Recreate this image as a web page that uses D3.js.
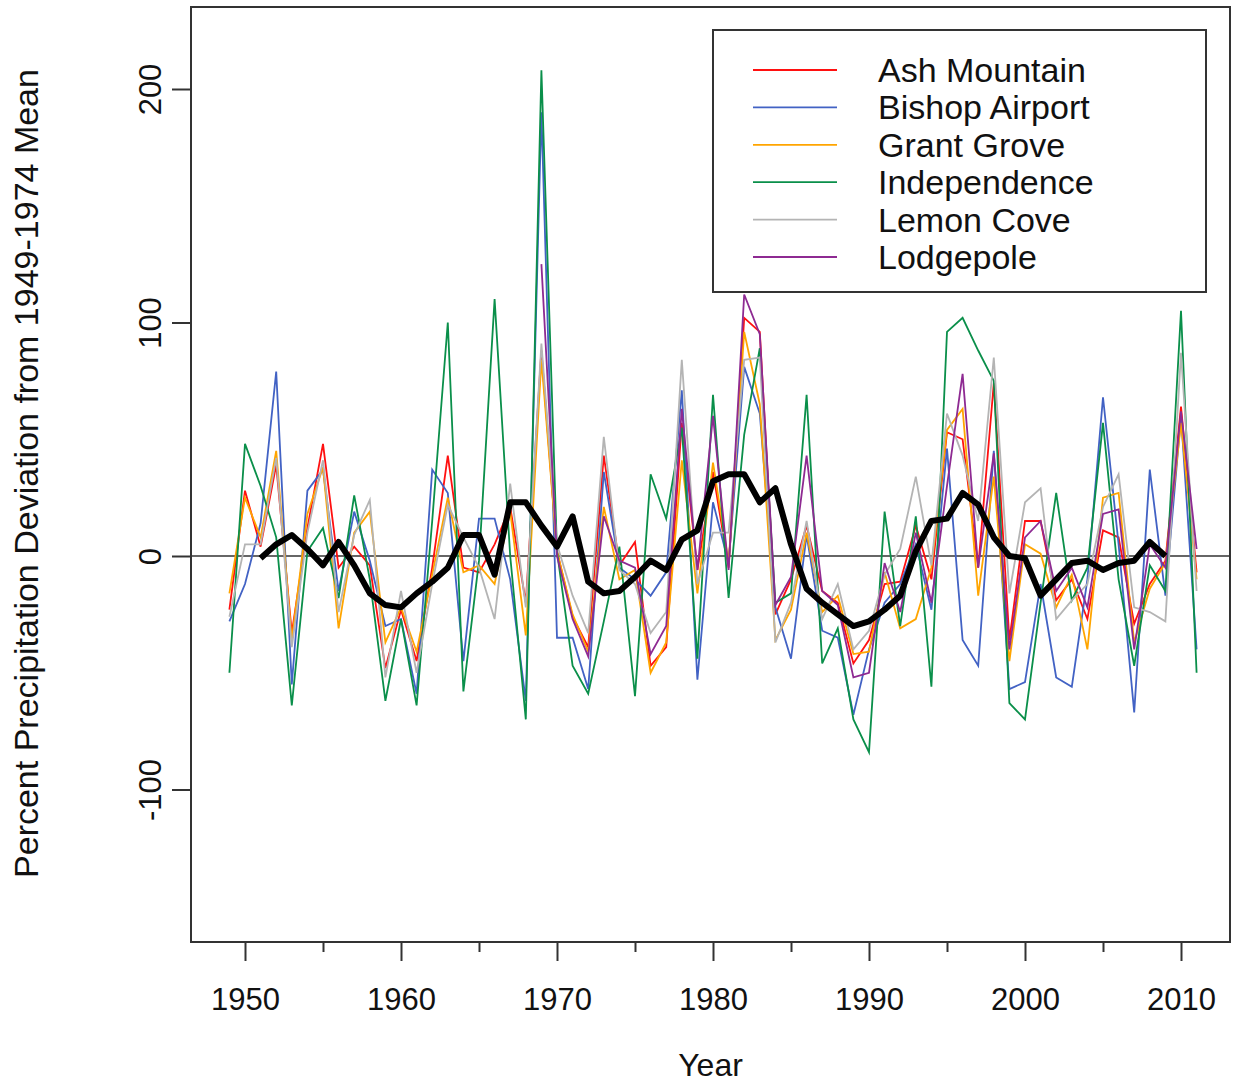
<!DOCTYPE html>
<html>
<head>
<meta charset="utf-8">
<script src="https://cdn.jsdelivr.net/npm/d3@7"></script>
<style>
  body { margin: 0; background: #fff; }
  svg { display: block; font-family: "Liberation Sans", Arial, Helvetica, sans-serif; }
</style>
</head>
<body>
<div id="chart"></div>
<script>
// Anos e séries (desvio percentual da média 1949-1974)
const years = d3.range(1949, 2012);

const ashMountain = [-23, 28, 4, 39, -33, 12, 48, -5, 4, -4, -48, -23, -45, -5, 43, -5, -7, 5, 21, -20,
  88, 2, -26, -39, 43, -4, 6, -47, -39, 57, -6, 36, -5, 102, 96, -25, -10, 13, -15, -20,
  -46, -36, -12, -11, 13, -10, 53, 50, -5, 74, -36, 15, 15, -19, -10, -27, 11, 8, -29, -12, -2, 64, -7];

const bishopAirport = [-28, -12, 14, 79, -55, 28, 37, -15, 19, -2, -30, -27, -59, 37, 27, -45, 16, 16, -10, -62,
  190, -35, -35, -57, 36, -5, -10, -17, -7, 71, -53, 23, -3, 81, 61, -22, -44, 9, -32, -35,
  -68, -40, -20, -12, 5, -23, 46, -36, -47, 45, -57, -54, -12, -52, -56, -10, 68, 5, -67, 37, -17, 60, -40];

const grantGrove = [-16, 25, 8, 45, -36, 18, 38, -31, 10, 19, -37, -22, -41, -8, 25, -7, -4, -12, 19, -34,
  84, 2, -25, -41, 21, -10, -6, -50, -37, 41, -16, 40, -3, 96, 65, -36, -23, 10, -24, -17,
  -42, -41, -7, -31, -27, -5, 54, 63, -17, 34, -45, 5, 1, -22, -8, -40, 25, 27, -37, -14, -3, 57, -10];

const independence = [-50, 48, 30, 8, -64, 2, 12, -18, 26, -10, -62, -27, -64, 15, 100, -58, -2, 110, 0, -70,
  208, 2, -47, -59, -28, 4, -60, 35, 16, 55, -44, 69, -18, 52, 89, -20, -16, 69, -46, -31,
  -70, -84, 19, -30, 17, -56, 96, 102, 88, 75, -63, -70, -20, 27, -19, -5, 57, -10, -47, -4, -15, 105, -50];

const lemonCove = [-26, 5, 5, 42, -39, 10, 41, -24, 9, 24, -52, -15, -50, -12, 22, 8, -5, -27, 31, -22,
  91, 5, -17, -33, 51, -6, -12, -33, -24, 84, -12, 10, 10, 84, 85, -37, -20, 15, -27, -12,
  -40, -32, -8, 3, 34, -4, 61, 43, 15, 85, -16, 23, 29, -27, -19, -12, 21, 35, -22, -24, -28, 87, -15];

// Lodgepole só tem dados a partir de 1969
const lodgepole = [null, null, null, null, null, null, null, null, null, null, null, null, null, null, null, null, null, null, null, null,
  125, 0, -27, -43, 17, -2, -5, -42, -30, 63, -6, 60, -6, 112, 95, -21, -9, 43, -15, -21,
  -52, -50, -3, -24, 10, -20, 30, 78, -5, 44, -40, 8, 15, -15, -5, -22, 18, 20, -40, 5, -5, 62, 3];

// Média móvel (1951-2009)
const avgYears = d3.range(1951, 2010);
const movingAvg = [-1, 5, 9, 3, -4, 6, -4, -16, -21, -22, -16, -11, -5, 9, 9, -8, 23, 23, 13, 4,
  17, -11, -16, -15, -9, -2, -6, 7, 11, 32, 35, 35, 23, 29, 5, -14, -20, -25, -30, -28,
  -23, -17, 2, 15, 16, 27, 22, 8, 0, -1, -17, -10, -3, -2, -6, -3, -2, 6, 0];

const stationNames = ['Ash Mountain', 'Bishop Airport', 'Grant Grove', 'Independence', 'Lemon Cove', 'Lodgepole'];
const stationValues = [ashMountain, bishopAirport, grantGrove, independence, lemonCove, lodgepole];
const stationColors = ['#ff1010', '#4262c4', '#ffa500', '#0a8f4a', '#b4b4b4', '#8e2a92'];

const majorYears = [1950, 1960, 1970, 1980, 1990, 2000, 2010];
const minorYears = [1955, 1965, 1975, 1985, 1995, 2005];
const yTicks = [-100, 0, 100, 200];

// Dimensões
const width = 1236, height = 1082;
const box = { left: 191, right: 1230, top: 7, bottom: 942 };

const svg = d3.select('#chart').append('svg')
  .attr('width', width)
  .attr('height', height);

const x = d3.scaleLinear().domain([1950, 2010]).range([245, 1181]);
const y = d3.scaleLinear().domain([0, 200]).range([556, 89]);

// Linha do zero
svg.append('line')
  .attr('x1', box.left).attr('x2', box.right)
  .attr('y1', y(0)).attr('y2', y(0))
  .attr('stroke', '#333').attr('stroke-width', 1.5);

// Séries das estações
const line = d3.line()
  .defined(d => d.v !== null)
  .x(d => x(d.year))
  .y(d => y(d.v));

stationValues.forEach((vals, i) => {
  const pts = years.map((yr, j) => ({ year: yr, v: vals[j] }));
  svg.append('path')
    .datum(pts)
    .attr('fill', 'none')
    .attr('stroke', stationColors[i])
    .attr('stroke-width', 1.8)
    .attr('stroke-linejoin', 'miter')
    .attr('d', line);
});

// Média móvel em preto
svg.append('path')
  .datum(avgYears.map((yr, j) => ({ year: yr, v: movingAvg[j] })))
  .attr('fill', 'none')
  .attr('stroke', '#000')
  .attr('stroke-width', 6)
  .attr('stroke-linejoin', 'round')
  .attr('d', line);

// Caixa do gráfico
svg.append('rect')
  .attr('x', box.left).attr('y', box.top)
  .attr('width', box.right - box.left)
  .attr('height', box.bottom - box.top)
  .attr('fill', 'none')
  .attr('stroke', '#333')
  .attr('stroke-width', 2);

// Eixo X
const xAxis = svg.append('g')
  .attr('transform', `translate(0,${box.bottom})`)
  .call(d3.axisBottom(x).tickValues(majorYears).tickFormat(d => String(d)).tickSize(19).tickPadding(27));
xAxis.select('.domain').remove();
xAxis.selectAll('line').attr('stroke', '#333').attr('stroke-width', 2);
xAxis.selectAll('text').attr('font-size', 31).attr('fill', '#111')
  .attr('font-family', '"Liberation Sans", Arial, sans-serif');

const xMinor = svg.append('g')
  .attr('transform', `translate(0,${box.bottom})`)
  .call(d3.axisBottom(x).tickValues(minorYears).tickFormat('').tickSize(10));
xMinor.select('.domain').remove();
xMinor.selectAll('line').attr('stroke', '#333').attr('stroke-width', 2);

// Eixo Y
const yAxis = svg.append('g')
  .attr('transform', `translate(${box.left},0)`)
  .call(d3.axisLeft(y).tickValues(yTicks).tickFormat(d => String(d)).tickSize(19));
yAxis.select('.domain').remove();
yAxis.selectAll('line').attr('stroke', '#333').attr('stroke-width', 2);
yAxis.selectAll('text')
  .attr('transform', 'rotate(-90)')
  .attr('x', 0).attr('y', -30).attr('dy', 0)
  .attr('text-anchor', 'middle')
  .attr('font-size', 31).attr('fill', '#111')
  .attr('font-family', '"Liberation Sans", Arial, sans-serif');

// Títulos dos eixos
svg.append('text')
  .attr('x', (box.left + box.right) / 2)
  .attr('y', 1076)
  .attr('text-anchor', 'middle')
  .attr('font-size', 32)
  .attr('fill', '#111')
  .text('Year');

svg.append('text')
  .attr('transform', `translate(38,${(box.top + box.bottom) / 2 - 1}) rotate(-90)`)
  .attr('text-anchor', 'middle')
  .attr('font-size', 34)
  .attr('fill', '#111')
  .text('Percent Precipitation Deviation from 1949-1974 Mean');

// Legenda
const legend = svg.append('g');
legend.append('rect')
  .attr('x', 713).attr('y', 30)
  .attr('width', 493).attr('height', 262)
  .attr('fill', '#fff')
  .attr('stroke', '#333')
  .attr('stroke-width', 2);

stationNames.forEach((name, i) => {
  const ly = 70 + i * 37.4;
  legend.append('line')
    .attr('x1', 753).attr('x2', 837)
    .attr('y1', ly).attr('y2', ly)
    .attr('stroke', stationColors[i])
    .attr('stroke-width', 1.8);
  legend.append('text')
    .attr('x', 878).attr('y', ly)
    .attr('dy', '0.35em')
    .attr('font-size', 34)
    .attr('fill', '#111')
    .text(name);
});
</script>
</body>
</html>
